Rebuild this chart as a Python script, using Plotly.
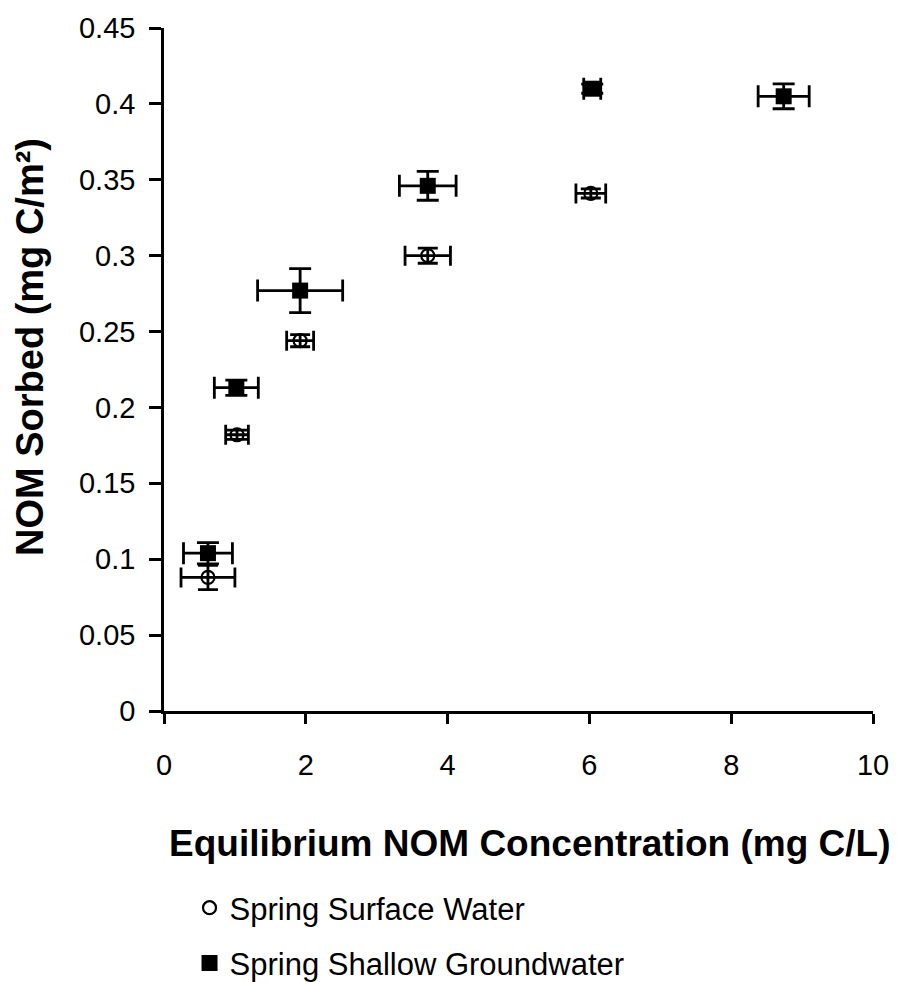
import plotly.graph_objects as go

# Spring Surface Water
sw_x = [0.62, 1.03, 1.92, 3.72, 6.02]
sw_y = [0.088, 0.182, 0.244, 0.300, 0.341]
sw_xerr = [0.38, 0.16, 0.19, 0.32, 0.21]
sw_yerr = [0.008, 0.003, 0.004, 0.005, 0.003]

# Spring Shallow Groundwater
gw_x = [0.62, 1.02, 1.92, 3.72, 6.04, 8.74]
gw_y = [0.104, 0.213, 0.277, 0.346, 0.410, 0.405]
gw_xerr = [0.345, 0.31, 0.60, 0.40, 0.12, 0.36]
gw_yerr = [0.007, 0.005, 0.0145, 0.0095, 0.003, 0.0082]

x_ticks = [0, 2, 4, 6, 8, 10]
y_ticks = [0, 0.05, 0.1, 0.15, 0.2, 0.25, 0.3, 0.35, 0.4, 0.45]

x_title = "<b>Equilibrium NOM Concentration (mg C/L)</b>"
y_title = "<b>NOM Sorbed (mg C/m²)</b>"

FONT = "Liberation Sans, Arial, sans-serif"

fig = go.Figure()
fig.add_trace(go.Scatter(
    x=sw_x, y=sw_y, mode="markers", name="Spring Surface Water",
    marker=dict(symbol="circle-open", size=13, color="black", line=dict(width=2.2)),
    error_x=dict(type="data", array=sw_xerr, color="black", thickness=2.8, width=10),
    error_y=dict(type="data", array=sw_yerr, color="black", thickness=2.8, width=10),
    legendgroup="a",
))
fig.add_trace(go.Scatter(
    x=gw_x, y=gw_y, mode="markers", name="Spring Shallow Groundwater",
    marker=dict(symbol="square", size=16, color="black"),
    error_x=dict(type="data", array=gw_xerr, color="black", thickness=2.8, width=11),
    error_y=dict(type="data", array=gw_yerr, color="black", thickness=2.8, width=11),
    legendgroup="b",
))

fig.update_layout(
    width=898, height=982,
    margin=dict(l=164, r=25, t=28, b=271, autoexpand=False),
    plot_bgcolor="white", paper_bgcolor="white",
    font=dict(family=FONT, size=29, color="black"),
    showlegend=True,
    xaxis=dict(
        range=[0, 10], tickvals=x_ticks, showgrid=False, zeroline=False,
        showline=True, linecolor="black", linewidth=2.5,
        ticks="outside", ticklen=10, tickwidth=2.5, tickcolor="black",
        tickfont=dict(size=29), ticklabelstandoff=16,
    ),
    yaxis=dict(
        range=[0, 0.45], tickvals=y_ticks, showgrid=False, zeroline=False,
        showline=True, linecolor="black", linewidth=2.5,
        ticks="outside", ticklen=12, tickwidth=2.5, tickcolor="black",
        tickfont=dict(size=29), ticklabelstandoff=8,
    ),
    legend=dict(x=0.036, xanchor="left", y=-0.249, yanchor="top",
                font=dict(size=31), bgcolor="rgba(0,0,0,0)",
                traceorder="grouped", tracegroupgap=12),
    annotations=[
        dict(text=x_title, xref="paper", yref="paper", x=0.516,
             y=-(843 - 711) / 683, xanchor="center", yanchor="middle",
             showarrow=False, font=dict(size=37)),
        dict(text=y_title, xref="paper", yref="paper", x=-(164 - 30) / 709,
             y=(711 - 347) / 683, xanchor="center", yanchor="middle",
             textangle=-90, showarrow=False, font=dict(size=38)),
    ],
)

fig.write_html("out.html", post_script="document.body.style.margin='0';",
               config={"displayModeBar": False})
